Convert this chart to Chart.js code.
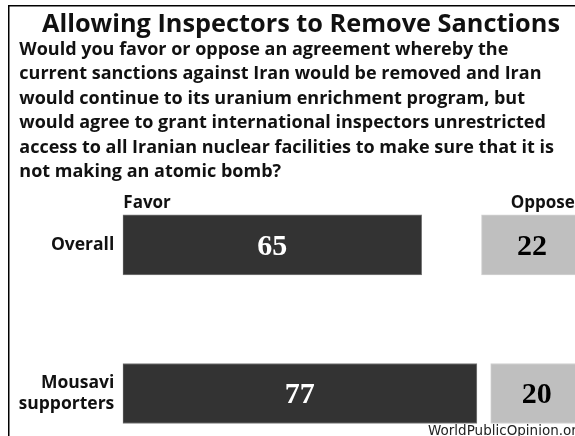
<!DOCTYPE html>
<html><head><meta charset="utf-8">
<script src="https://cdn.jsdelivr.net/npm/chart.js@4.4.1/dist/chart.umd.min.js"></script>
<style>
html,body{margin:0;padding:0;background:#fff;overflow:hidden;width:575px;height:436px}
#wrap{position:absolute;left:0;top:0;width:600px;height:487px}
</style>
</head><body><div id="wrap"><canvas id="c" width="600" height="487"></canvas></div>
<script>
const categories = ['Overall', ['Mousavi', 'supporters']];
const favor = [65, 77];
const noAnswer = [13, 3];
const oppose = [22, 20];
const seriesNames = ['Favor', "Don't know", 'Oppose'];
const titleText = 'Allowing Inspectors to Remove Sanctions';
const questionLines = [
  'Would you favor or oppose an agreement whereby the',
  'current sanctions against Iran would be removed and Iran',
  'would continue to its uranium enrichment program, but',
  'would agree to grant international inspectors unrestricted',
  'access to all Iranian nuclear facilities to make sure that it is',
  'not making an atomic bomb?'
];
const sourceText = 'WorldPublicOpinion.org';

const decor = {
  id: 'decor',
  beforeDraw(chart) {
    const ctx = chart.ctx;
    ctx.save();
    ctx.fillStyle = '#fff';
    ctx.fillRect(0, 0, chart.width, chart.height);
    ctx.strokeStyle = '#000';
    ctx.lineWidth = 1.5;
    ctx.strokeRect(8.75, 5.75, chart.width + 50, chart.height + 50);
    ctx.restore();
  },
  afterDatasetsDraw(chart) {
    const ctx = chart.ctx;
    ctx.save();
    [0, 2].forEach(di => {
      const meta = chart.getDatasetMeta(di);
      meta.data.forEach((bar, i) => {
        const v = chart.data.datasets[di].data[i];
        const cx = (bar.x + bar.base) / 2;
        ctx.font = 'bold 30px "Liberation Serif"';
        ctx.fillStyle = di === 0 ? '#fff' : '#000';
        ctx.textAlign = 'center';
        ctx.textBaseline = 'alphabetic';
        ctx.fillText(String(v), cx, bar.y + 10);
      });
    });
    const f0 = chart.getDatasetMeta(0).data[0];
    const labelY = f0.y - f0.height / 2 - 7.3;
    ctx.font = 'bold 17px "Open Sans"';
    ctx.fillStyle = '#111';
    ctx.textBaseline = 'alphabetic';
    ctx.textAlign = 'left';
    ctx.fillText(seriesNames[0], f0.base + 0.6, labelY);
    ctx.textAlign = 'right';
    ctx.fillText(seriesNames[2], chart.chartArea.right - 8, labelY);
    ctx.font = '13.5px "DejaVu Sans"';
    ctx.fillStyle = '#222';
    ctx.textAlign = 'left';
    ctx.fillText(sourceText, 428, 435);
    ctx.restore();
  }
};

new Chart(document.getElementById('c'), {
  type: 'bar',
  data: {
    labels: categories,
    datasets: [
      { label: seriesNames[0], data: favor, backgroundColor: '#333333', borderColor: '#7a7a7a', borderWidth: 1, borderSkipped: false },
      { label: seriesNames[1], data: noAnswer, backgroundColor: 'rgba(0,0,0,0)', borderWidth: 0 },
      { label: seriesNames[2], data: oppose, backgroundColor: '#bfbfbf', borderColor: '#d2d2d2', borderWidth: 1, borderSkipped: false }
    ]
  },
  options: {
    indexAxis: 'y',
    responsive: false,
    animation: false,
    devicePixelRatio: 1,
    barThickness: 60,
    layout: { padding: { left: 19.3, right: 17.3, top: 0, bottom: 4.8 } },
    scales: {
      x: { stacked: true, min: 0, max: 100, display: false },
      y: {
        stacked: true,
        grid: { display: false, drawTicks: false },
        border: { display: false },
        ticks: { padding: 8.4, color: '#111', font: { family: 'Open Sans', weight: 'bold', size: 17.5, lineHeight: 1.24 } },
        afterFit(scale) { scale.width = 103.4; }
      }
    },
    plugins: {
      legend: { display: false },
      tooltip: { enabled: false },
      title: {
        display: true, text: titleText, align: 'center', color: '#111',
        font: { family: 'Open Sans', weight: 'bold', size: 25.3, lineHeight: 1.0 },
        padding: { top: 11.85, bottom: 0 }
      },
      subtitle: {
        display: true, text: questionLines, align: 'start', color: '#111',
        font: { family: 'Open Sans', weight: 'bold', size: 18, lineHeight: 1.356 },
        padding: { top: 0.52, bottom: -13.47 }
      }
    }
  },
  plugins: [decor]
});
</script>
</body></html>
